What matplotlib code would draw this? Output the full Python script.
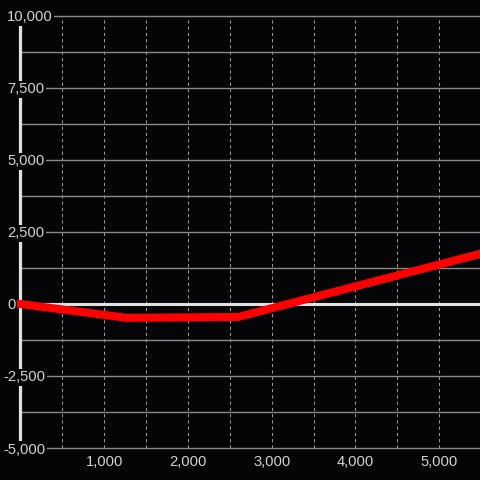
import numpy as np
import matplotlib.pyplot as plt
from matplotlib.transforms import blended_transform_factory

# data
xs = [0, 1270, 2600, 5500]
ys = [0, -480, -450, 1750]

x_ticks = [1000, 2000, 3000, 4000, 5000]
x_grid = [500, 1000, 1500, 2000, 2500, 3000, 3500, 4000, 4500, 5000]
y_major = [10000, 7500, 5000, 2500, -2500, -5000]
y_minor = [8750, 6250, 3750, 1250, -1250, -3750]

bg = '#050507'
txt = '#d2d2d2'

plt.rcParams['font.family'] = ['Liberation Sans', 'DejaVu Sans']

fig = plt.figure(figsize=(4.8, 4.8), dpi=100, facecolor=bg)
ax = fig.add_axes([0, 0, 1, 1])
ax.set_facecolor(bg)
ax.set_xlim(-243, 5486)
ax.set_ylim(-6111, 10555)
ax.axis('off')

# vertical dashed grid
ax.vlines(x_grid, -5000, 10000, colors='#9a9a9a', linewidth=0.75,
          linestyles=(0, (3, 3)), zorder=1)

# horizontal grid
ax.hlines(y_minor, 0, 5486, colors='#8a8a8a', linewidth=1.0, zorder=1)
ax.hlines(y_major, 0, 5486, colors='#8a8a8a', linewidth=1.0, zorder=1)
trx = blended_transform_factory(ax.transAxes, ax.transData)
ax.plot([45 / 480, 1], [0, 0], color='#e2e2e2', linewidth=2.2,
        transform=trx, zorder=2)

# y axis bar
ax.plot([0, 0], [-5000, 10000], color='#e2e2e2', linewidth=2.3,
        solid_capstyle='butt', zorder=2)

# series
ax.plot(xs, ys, color='#ff0000', linewidth=5.8,
        solid_capstyle='projecting', solid_joinstyle='miter', zorder=3)

# y labels
for v in y_major + [0]:
    xpos = 3 / 480 if v < 0 else 7 / 480
    ax.text(xpos, v, f'{v:,}', transform=trx, ha='left', va='center_baseline',
            fontsize=10.6, color=txt, zorder=5,
            bbox=dict(facecolor=bg, edgecolor='none', pad=1.2))

# x labels
trxb = blended_transform_factory(ax.transData, ax.transAxes)
for v in x_ticks:
    ax.text(v, 19 / 480, f'{v:,}', transform=trxb, ha='center', va='center_baseline',
            fontsize=10.6, color=txt, zorder=5)

fig.savefig('out.png', dpi=100, facecolor=bg)
